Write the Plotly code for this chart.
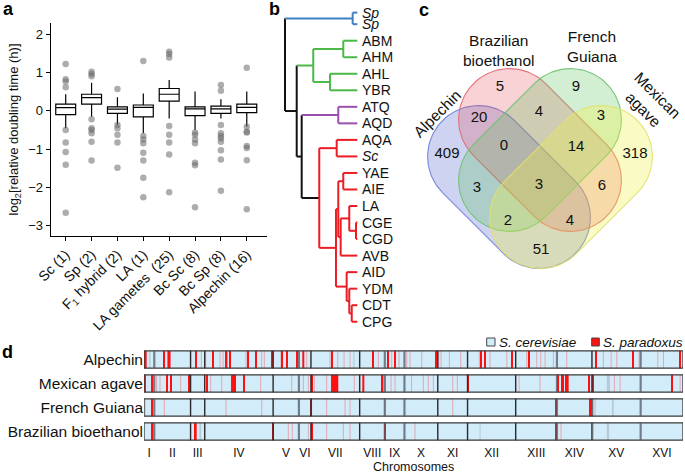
import numpy as np
import plotly.graph_objects as go

W, H = 685, 473
FONT = "Liberation Sans, Arial, Helvetica, sans-serif"


def px(x):
    return x / W


def py(y):
    return 1 - y / H


# ---------------- Panel a: growth box plots ----------------
box_cats = ["Sc (1)", "Sp (2)", "F<sub>1</sub> hybrid (2)", "LA (1)",
            "LA gametes  (25)", "Bc Sc (8)", "Bc Sp (8)", "Alpechin (16)"]
box_q1 = [-0.10, 0.17, -0.07, -0.16, 0.25, -0.13, -0.07, -0.05]
box_median = [0.08, 0.34, 0.04, 0.09, 0.43, 0.05, 0.05, 0.09]
box_q3 = [0.17, 0.43, 0.10, 0.15, 0.58, 0.10, 0.12, 0.17]
box_low = [-0.46, -0.16, -0.37, -0.59, -0.20, -0.50, -0.20, -0.42]
box_high = [0.43, 0.73, 0.35, 0.45, 0.80, 0.50, 0.30, 0.50]
out_sc = [1.22, 0.82, 0.76, 0.61, -0.50, -0.83, -1.08, -1.41, -2.66]
out_sp = [1.02, 0.96, 0.90, -0.22, -0.46, -0.50, -0.59, -0.81, -1.30]
out_f1 = [0.57, -0.37, -0.46, -0.63, -0.83, -1.49]
out_la = [1.30, -0.66, -0.75, -0.85, -1.10, -1.30, -1.75, -2.26]
out_lag = [1.54, 1.48, 1.39, -0.40, -0.63, -0.83, -1.14, -2.13]
out_bcsc = [-0.57, -0.63, -0.75, -0.85, -1.36, -1.42, -2.52]
out_bcsp = [0.67, 0.52, -0.37, -0.59, -0.66, -0.72, -0.81, -1.03, -1.27, -2.09]
out_alp = [1.12, -0.42, -0.55, -0.57, -0.92, -0.97, -1.29, -2.57]
box_outliers = [out_sc, out_sp, out_f1, out_la, out_lag, out_bcsc, out_bcsp, out_alp]

# ---------------- Panel b: tree ----------------
leaf_ids = ["Sp1", "Sp2", "ABM", "AHM", "AHL", "YBR", "ATQ", "AQD", "AQA", "Sc",
            "YAE", "AIE", "LA", "CGE", "CGD", "AVB", "AID", "YDM", "CDT", "CPG"]
leaf_labels = ["<i>Sp</i>", "<i>Sp</i>", "ABM", "AHM", "AHL", "YBR", "ATQ", "AQD", "AQA",
               "<i>Sc</i>", "YAE", "AIE", "LA", "CGE", "CGD", "AVB", "AID", "YDM", "CDT", "CPG"]
leaf_pos = [0.3, 1.0, 2, 3, 4, 5, 6, 7, 8, 9, 10, 11, 12, 13, 14, 15, 16, 17, 18, 19]
BLUE, GREEN, PURPLE, RED, BLACK = "#3f7fc6", "#4cb848", "#9b4fb0", "#ec1c24", "#111111"
# (node, depth, children, clade colour, stem colour)
tree_nodes = [
    ("root", 0.000, ["nSp", "nA"], BLACK, BLACK),
    ("nSp", 0.936, ["Sp1", "Sp2"], BLUE, BLUE),
    ("nA", 0.162, ["nG", "nB"], BLACK, BLACK),
    ("nG", 0.391, ["g1", "g2"], GREEN, GREEN),
    ("g1", 0.806, ["ABM", "AHM"], GREEN, GREEN),
    ("g2", 0.622, ["AHL", "YBR"], GREEN, GREEN),
    ("nB", 0.231, ["nP", "nR"], BLACK, BLACK),
    ("nP", 0.737, ["ATQ", "AQD"], PURPLE, PURPLE),
    ("nR", 0.474, ["r1", "r2"], RED, BLACK),
    ("r1", 0.715, ["AQA", "Sc"], RED, RED),
    ("r2", 0.705, ["r3", "r7"], RED, RED),
    ("r3", 0.737, ["r4", "r5"], RED, RED),
    ("r4", 0.806, ["YAE", "AIE"], RED, RED),
    ("r5", 0.770, ["r6", "AVB"], RED, RED),
    ("r6", 0.889, ["LA", "r6b"], RED, RED),
    ("r6b", 0.982, ["CGE", "CGD"], RED, RED),
    ("r7", 0.853, ["AID", "r8"], RED, RED),
    ("r8", 0.889, ["YDM", "r9"], RED, RED),
    ("r9", 0.923, ["CDT", "CPG"], RED, RED),
]

# ---------------- Panel c: Venn ----------------
venn_sets = ["Alpechin", "Brazilian bioethanol", "French Guiana", "Mexican agave"]
venn_counts = [5, 9, 20, 4, 3, 409, 0, 14, 318, 3, 3, 6, 2, 4, 51]

# ---------------- Panel d: introgressions ----------------
chrom_names = ["I", "II", "III", "IV", "V", "VI", "VII", "VIII", "IX", "X",
               "XI", "XII", "XIII", "XIV", "XV", "XVI"]
chrom_len_kb = [230, 813, 317, 1532, 577, 270, 1091, 563, 440, 746, 667, 1078, 924, 784, 1091, 948]
strain_rows = ["Alpechin", "Mexican agave", "French Guiana", "Brazilian bioethanol"]
# S. paradoxus tracts: (genome position kb, tract size kb)
alp_strong = [(40, 40), (455, 25), (560, 70), (1158, 25), (1539, 25), (1848, 40), (1926, 25),
              (2336, 25), (2509, 25), (2878, 40), (3098, 25), (3196, 25), (3420, 25), (3568, 45),
              (4204, 25), (5136, 25), (5459, 25), (5622, 25), (6537, 40), (7542, 25), (7638, 25),
              (8248, 30), (8631, 25), (10121, 40), (10960, 25), (12006, 25)]
alp_faint = [1284, 1382, 1702, 1770, 2285, 2636, 2695, 3069, 3644, 4166, 4339, 4480, 4614,
             5248, 5548, 5712, 5884, 5958, 6220, 6601, 6653, 6839, 7094, 7511, 7750, 8125,
             8572, 8796, 8886, 8982, 9168, 9468, 10288, 10461, 10588, 11088, 11507, 11633]
alp_grey = [(130, 30), (4700, 25)]
mex_strong = [(22, 25), (182, 50), (508, 25), (598, 25), (1015, 25), (1408, 38), (2005, 112),
              (2247, 25), (3756, 25), (4270, 163), (4912, 45), (5325, 25), (7262, 30),
              (9267, 25), (9356, 25), (9394, 25), (9448, 25), (9490, 40), (9960, 30),
              (10065, 25), (11827, 25)]
mex_faint = [284, 358, 822, 1494, 1740, 2614, 3308, 3568, 3680, 3815, 4092, 4710, 5360,
             5398, 5533, 5622, 5990, 6256, 6368, 6480, 6915, 7018, 8400, 8870, 10535,
             10662, 12006]
mex_grey = [(10400, 70)]
frg_strong = [(184, 30), (3748, 30), (9225, 40), (9990, 25)]
frg_faint = [22, 455, 1837, 2636, 4092, 4502, 4614, 5398, 6915, 10065, 10102]
frg_grey = [(10500, 40)]
bra_strong = [(190, 36), (1161, 38), (2882, 25), (3755, 30), (5398, 25), (9234, 30)]
bra_faint = [3232, 3321, 3680, 4092, 4464, 4614, 6069, 9339, 10065]
bra_grey = [(1260, 40), (7526, 22), (10390, 52)]

row_strong = [alp_strong, mex_strong, frg_strong, bra_strong]
row_faint = [alp_faint, mex_faint, frg_faint, bra_faint]
row_grey = [alp_grey, mex_grey, frg_grey, bra_grey]

# =====================================================================
fig = go.Figure()

# ----- a -----
fig.add_trace(go.Box(
    x=box_cats, q1=box_q1, median=box_median, q3=box_q3,
    lowerfence=box_low, upperfence=box_high, boxpoints=False,
    width=0.77, whiskerwidth=0, fillcolor="white",
    line=dict(color="black", width=1.2), xaxis="x", yaxis="y", showlegend=False))
ox, oy = [], []
for c, vals in zip(box_cats, box_outliers):
    ox += [c] * len(vals)
    oy += vals
fig.add_trace(go.Scatter(
    x=ox, y=oy, mode="markers", xaxis="x", yaxis="y", showlegend=False,
    marker=dict(color="rgba(105,105,105,0.55)", size=6.5, line=dict(width=0))))

# ----- b -----
node_map = {n[0]: n for n in tree_nodes}
leaf_y = dict(zip(leaf_ids, leaf_pos))
ycache = {}


def node_y(name):
    if name in leaf_y:
        return leaf_y[name]
    if name not in ycache:
        ys = [node_y(ch) for ch in node_map[name][2]]
        ycache[name] = sum(ys) / len(ys)
    return ycache[name]


segs = {}


def add_seg(col, x0, y0, x1, y1):
    xs, ys = segs.setdefault(col, ([], []))
    xs += [x0, x1, None]
    ys += [y0, y1, None]


for name, depth, children, vcol, scol in tree_nodes:
    cys = [node_y(ch) for ch in children]
    add_seg(vcol, depth, min(cys), depth, max(cys))
    for ch, cy in zip(children, cys):
        if ch in leaf_y:
            add_seg(vcol, depth, cy, 1.0, cy)
        else:
            add_seg(node_map[ch][4], depth, cy, node_map[ch][1], cy)

for col, (xs, ys) in segs.items():
    fig.add_trace(go.Scatter(x=xs, y=ys, mode="lines", xaxis="x2", yaxis="y2",
                             line=dict(color=col, width=2), showlegend=False,
                             hoverinfo="skip"))

annotations = []
for lab, yv in zip(leaf_labels, leaf_pos):
    annotations.append(dict(x=1.0, y=yv, xref="x2", yref="y2", text=lab, showarrow=False,
                            xanchor="left", yanchor="middle", xshift=3,
                            font=dict(size=14, color="#111", family=FONT)))

# ----- c -----
venn_center = [(509, 187), (540, 150), (540, 150), (571, 187)]
venn_angle = [45, 45, -45, -45]
venn_fill = ["rgba(90,110,210,0.30)", "rgba(230,80,95,0.26)",
             "rgba(80,190,80,0.25)", "rgba(240,240,60,0.30)"]
venn_edge = ["rgba(110,125,215,0.9)", "rgba(225,105,115,0.9)",
             "rgba(110,195,110,0.9)", "rgba(225,225,110,0.9)"]
HALF, RAD = 43, 51
for (cx, cy), ang, fc, ec in zip(venn_center, venn_angle, venn_fill, venn_edge):
    t = np.deg2rad(ang)
    u = np.array([np.cos(t), np.sin(t)])
    v = np.array([-np.sin(t), np.cos(t)])
    c = np.array([cx, cy], float)
    pts = []
    for a in np.linspace(-np.pi / 2, np.pi / 2, 60):
        pts.append(c + HALF * u + RAD * (np.cos(a) * u + np.sin(a) * v))
    for a in np.linspace(np.pi / 2, 3 * np.pi / 2, 60):
        pts.append(c - HALF * u + RAD * (np.cos(a) * u + np.sin(a) * v))
    pts.append(pts[0])
    pts = np.array(pts)
    fig.add_trace(go.Scatter(x=pts[:, 0], y=pts[:, 1], mode="lines", fill="toself",
                             fillcolor=fc, line=dict(color=ec, width=1.1),
                             xaxis="x3", yaxis="y3", showlegend=False, hoverinfo="skip"))

venn_count_xy = [(500, 87), (576, 87), (479, 118), (539, 112), (601, 116), (447, 154),
                 (504, 146), (576, 147), (635, 154), (477, 188), (539, 185), (602, 186),
                 (508, 221), (570, 221), (541, 250)]
fig.add_trace(go.Scatter(x=[p[0] for p in venn_count_xy], y=[p[1] for p in venn_count_xy],
                         text=[str(v) for v in venn_counts], mode="text",
                         textfont=dict(size=15, color="#111", family=FONT),
                         xaxis="x3", yaxis="y3", showlegend=False, hoverinfo="skip"))
venn_label_pos = [(437, 113, -45), (499, 50, 0), (592, 46, 0), (651, 102, 45)]
venn_label_txt = ["Alpechin", "Brazilian<br>bioethanol", "French<br>Guiana", "Mexican<br>agave"]
for (lx, ly, la), txt in zip(venn_label_pos, venn_label_txt):
    annotations.append(dict(x=lx, y=ly, xref="x3", yref="y3", text=txt, showarrow=False,
                            textangle=la, xanchor="center", yanchor="middle",
                            font=dict(size=15.5, color="#111", family=FONT)))

# ----- d -----
genome = float(sum(chrom_len_kb))
cum = np.cumsum([0] + chrom_len_kb)
mids = [(cum[i] + cum[i + 1]) / 2 for i in range(len(chrom_len_kb))]
ridx = list(range(len(strain_rows)))
BAR_W = 0.72
fig.add_trace(go.Bar(orientation="h", y=ridx, x=[genome] * len(ridx), base=[0] * len(ridx),
                     width=BAR_W, marker=dict(color="#d3ecf9", line=dict(width=0)),
                     xaxis="x4", yaxis="y4", showlegend=False, hoverinfo="skip"))


def tract_bar(r, items, color, default_w):
    bases, lens = [], []
    for it in items:
        if isinstance(it, tuple):
            pos, w = it
        else:
            pos, w = it, default_w
        bases.append(pos - w / 2)
        lens.append(w)
    return go.Bar(orientation="h", y=[r] * len(bases), x=lens, base=bases, width=BAR_W,
                  marker=dict(color=color, line=dict(width=0)), xaxis="x4", yaxis="y4",
                  showlegend=False, hoverinfo="skip")


for r in ridx:
    fig.add_trace(tract_bar(r, row_grey[r], "rgba(150,160,175,0.45)", 22))
    fig.add_trace(tract_bar(r, row_faint[r], "rgba(240,110,120,0.55)", 22))
    fig.add_trace(tract_bar(r, row_strong[r], "#ff1010", 25))

boundary_grey = [True, False, False, False, True, False, False, True, True, False,
                 False, False, True, False, True]
for grey_flag, col, lw in [(False, "#2a2a2a", 1.4), (True, "rgba(80,90,100,0.75)", 2.2)]:
    xs, ys = [], []
    for b, g in zip(cum[1:-1], boundary_grey):
        if g != grey_flag:
            continue
        for r in ridx:
            xs += [b, b, None]
            ys += [r - BAR_W / 2, r + BAR_W / 2, None]
    fig.add_trace(go.Scatter(x=xs, y=ys, mode="lines", line=dict(color=col, width=lw),
                             xaxis="x4", yaxis="y4", showlegend=False, hoverinfo="skip"))

fig.add_trace(go.Bar(orientation="h", y=ridx, x=[genome] * len(ridx), base=[0] * len(ridx),
                     width=BAR_W, marker=dict(color="rgba(0,0,0,0)",
                                              line=dict(color="#3a3a3a", width=1.3)),
                     xaxis="x4", yaxis="y4", showlegend=False, hoverinfo="skip"))

# legend for d
shapes = [
    dict(type="rect", xref="paper", yref="paper", x0=px(486.7), x1=px(495), y0=py(346),
         y1=py(338), fillcolor="#d3ecf9", line=dict(color="#444", width=1)),
    dict(type="rect", xref="paper", yref="paper", x0=px(591.7), x1=px(599.3), y0=py(346),
         y1=py(338), fillcolor="#ff1010", line=dict(color="#444", width=1)),
]
annotations += [
    dict(x=px(497), y=py(342), xref="paper", yref="paper", text="<i>S. cerevisiae</i>",
         showarrow=False, xanchor="left", yanchor="middle",
         font=dict(size=13.5, color="#111", family=FONT)),
    dict(x=px(601), y=py(342), xref="paper", yref="paper", text="<i>S. paradoxus</i>",
         showarrow=False, xanchor="left", yanchor="middle",
         font=dict(size=13.5, color="#111", family=FONT)),
    dict(x=px(413.5), y=py(466.5), xref="paper", yref="paper", text="Chromosomes",
         showarrow=False, xanchor="center", yanchor="middle",
         font=dict(size=12.5, color="#111", family=FONT)),
]

# panel letters
for lt, lx, ly in [("a", 1, 9), ("b", 267, 9), ("c", 417, 10), ("d", 0, 352)]:
    annotations.append(dict(x=px(lx), y=py(ly), xref="paper", yref="paper",
                            text="<b>%s</b>" % lt, showarrow=False, xanchor="left",
                            yanchor="middle", font=dict(size=18, color="black", family=FONT)))

hidden = dict(visible=False, showgrid=False, zeroline=False, automargin=False)
fig.update_layout(
    width=W, height=H, margin=dict(l=0, r=0, t=0, b=0, autoexpand=False),
    paper_bgcolor="white", plot_bgcolor="white", barmode="overlay",
    font=dict(family=FONT, color="#111"),
    showlegend=False,
    xaxis=dict(domain=[px(50.7), px(266.7)], anchor="y", type="category",
               range=[-0.58, 7.77], showline=True, linecolor="black", linewidth=1,
               ticks="outside", ticklen=4, tickcolor="black", tickangle=-45,
               tickfont=dict(size=14, color="#111"), showgrid=False, zeroline=False,
               automargin=False),
    yaxis=dict(domain=[py(236), py(23)], anchor="x", range=[-3.27, 2.29],
               showline=True, linecolor="black", linewidth=1, ticks="outside", ticklen=4,
               tickcolor="black", tickvals=[-3, -2, -1, 0, 1, 2],
               tickfont=dict(size=13, color="#111"), showgrid=False, zeroline=False,
               automargin=False,
               title=dict(text="log<sub>2</sub>[relative doubling time (h)]",
                          font=dict(size=13, color="#111"), standoff=6)),
    xaxis2=dict(domain=[px(280), px(362)], anchor="y2", range=[-0.069, 1.065], **hidden),
    yaxis2=dict(domain=[py(330), py(5)], anchor="x2", range=[19.5, -0.16], **hidden),
    xaxis3=dict(domain=[px(400), px(685)], anchor="y3", range=[400, 685], **hidden),
    yaxis3=dict(domain=[py(330), py(0)], anchor="x3", range=[330, 0], **hidden),
    xaxis4=dict(domain=[px(144), px(683)], anchor="y4", range=[0, genome],
                tickvals=mids, ticktext=chrom_names, ticks="", showline=False,
                tickfont=dict(size=12, color="#111"), showgrid=False, zeroline=False,
                automargin=False),
    yaxis4=dict(domain=[py(443.5), py(347.5)], anchor="x4", range=[3.5, -0.5],
                tickvals=ridx, ticktext=strain_rows, ticks="", showline=False,
                tickfont=dict(size=15.5, color="#111"), showgrid=False, zeroline=False,
                automargin=False),
    annotations=annotations, shapes=shapes,
)

fig.write_html("out.html", config={"displayModeBar": False},
               post_script="document.body.style.margin='0';document.body.style.overflow='hidden';")
